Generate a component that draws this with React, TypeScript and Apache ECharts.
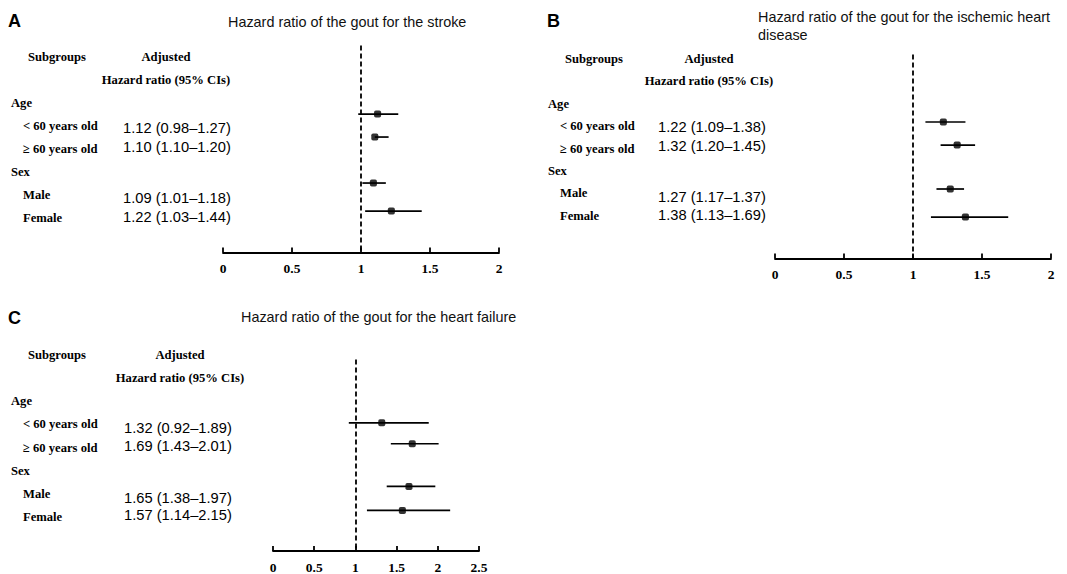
import React, { useEffect, useRef } from "react";
import * as echarts from "echarts";

// ---------- data ----------
const subgroupLabels = ["< 60 years old", "≥ 60 years old", "Male", "Female"];
const groupHeaders = ["Age", "Sex"];

const strokeHR = [1.12, 1.1, 1.09, 1.22];
const strokeLo = [0.98, 1.1, 1.01, 1.03];
const strokeHi = [1.27, 1.2, 1.18, 1.44];
const strokeRows = [2.48, 3.48, 5.48, 6.7];

const ihdHR = [1.22, 1.32, 1.27, 1.38];
const ihdLo = [1.09, 1.2, 1.17, 1.13];
const ihdHi = [1.38, 1.45, 1.37, 1.69];
const ihdRows = [2.81, 3.84, 5.8, 7.05];

const hfHR = [1.32, 1.69, 1.65, 1.57];
const hfLo = [0.92, 1.43, 1.38, 1.14];
const hfHi = [1.89, 2.01, 1.97, 2.15];
const hfRows = [2.94, 3.85, 5.7, 6.74];

const ticksAB = [0, 0.5, 1, 1.5, 2];
const ticksC = [0, 0.5, 1, 1.5, 2, 2.5];

const titles = [
  "Hazard ratio of the gout for the stroke",
  "Hazard ratio of the gout for the ischemic heart\ndisease",
  "Hazard ratio of the gout for the heart failure",
];

// ---------- styles ----------
const SERIF = "'Liberation Serif', 'Times New Roman', serif";
const SANS = "'Liberation Sans', Arial, sans-serif";

function fmt(hr: number, lo: number, hi: number) {
  return `${hr.toFixed(2)} (${lo.toFixed(2)}–${hi.toFixed(2)})`;
}

type PanelLayout = {
  letter: string;
  letterX: number;
  letterY: number;
  titleX: number;
  titleY: number;
  subX: number;
  subY: number;
  adjX: number;
  rowGap: number;
  groupX: number;
  itemX: number;
  hrX: number;
  hrY: number[];
};

const layouts: PanelLayout[] = [
  { letter: "A", letterX: 8, letterY: 21, titleX: 228, titleY: 22, subX: 28, subY: 57, adjX: 166, rowGap: 23, groupX: 11, itemX: 23, hrX: 123, hrY: [128, 147, 198, 217] },
  { letter: "B", letterX: 547, letterY: 21, titleX: 758, titleY: 26, subX: 565, subY: 59, adjX: 709, rowGap: 22.4, groupX: 548, itemX: 560, hrX: 658, hrY: [127, 146, 197, 215] },
  { letter: "C", letterX: 8, letterY: 318, titleX: 241, titleY: 317, subX: 28, subY: 355, adjX: 180, rowGap: 23.14, groupX: 11, itemX: 23, hrX: 124, hrY: [428, 446, 498, 515] },
];

const panelData = [
  { hr: strokeHR, lo: strokeLo, hi: strokeHi },
  { hr: ihdHR, lo: ihdLo, hi: ihdHi },
  { hr: hfHR, lo: hfLo, hi: hfHi },
];

function tableGraphics(p: PanelLayout, idx: number) {
  const els: any[] = [];
  const bold = (t: string, x: number, y: number, align = "left") => ({
    type: "text",
    x,
    y,
    style: { text: t, font: `bold 12.6px ${SERIF}`, fill: "#000", align, verticalAlign: "middle" },
  });
  els.push({
    type: "text",
    x: p.letterX,
    y: p.letterY,
    style: { text: p.letter, font: `bold 18px ${SANS}`, fill: "#000", verticalAlign: "middle" },
  });
  els.push({
    type: "text",
    x: p.titleX,
    y: p.titleY,
    style: { text: titles[idx], font: `14.4px ${SANS}`, fill: "#111", verticalAlign: "middle", lineHeight: 18 },
  });
  const g = p.rowGap;
  els.push(bold("Subgroups", p.subX, p.subY));
  els.push(bold("Adjusted", p.adjX, p.subY, "center"));
  els.push(bold("Hazard ratio (95% CIs)", p.adjX, p.subY + g, "center"));
  els.push(bold(groupHeaders[0], p.groupX, p.subY + 2 * g));
  els.push(bold(subgroupLabels[0], p.itemX, p.subY + 3 * g));
  els.push(bold(subgroupLabels[1], p.itemX, p.subY + 4 * g));
  els.push(bold(groupHeaders[1], p.groupX, p.subY + 5 * g));
  els.push(bold(subgroupLabels[2], p.itemX, p.subY + 6 * g));
  els.push(bold(subgroupLabels[3], p.itemX, p.subY + 7 * g));
  const d = panelData[idx];
  d.hr.forEach((v, i) => {
    els.push({
      type: "text",
      x: p.hrX,
      y: p.hrY[i],
      style: { text: fmt(v, d.lo[i], d.hi[i]), font: `14.7px ${SANS}`, fill: "#000", verticalAlign: "middle" },
    });
  });
  return els;
}

function makeXAxis(gridIndex: number, ticks: number[]) {
  return {
    type: "value",
    gridIndex,
    min: ticks[0],
    max: ticks[ticks.length - 1],
    interval: ticks[1] - ticks[0],
    axisLine: { show: true, onZero: false, lineStyle: { color: "#000", width: 1.8 } },
    axisTick: { show: true, inside: true, length: 5, lineStyle: { color: "#000", width: 1.8 } },
    axisLabel: { show: true, margin: 9, color: "#000", fontFamily: SERIF, fontWeight: "bold", fontSize: 13.5 },
    splitLine: { show: false },
  };
}

function makeYAxis(gridIndex: number, min: number, max: number) {
  return { type: "value", gridIndex, inverse: true, min, max, show: false };
}

function panelSeries(idx: number, rows: number[]) {
  const d = panelData[idx];
  return [
    {
      type: "custom",
      xAxisIndex: idx,
      yAxisIndex: idx,
      data: d.lo.map((lo, i) => [lo, d.hi[i], rows[i]]),
      renderItem: (params: any, api: any) => {
        const a = api.coord([api.value(0), api.value(2)]);
        const b = api.coord([api.value(1), api.value(2)]);
        return {
          type: "line",
          shape: { x1: a[0], y1: a[1], x2: b[0], y2: b[1] },
          style: { stroke: "#000", lineWidth: 1.7 },
        };
      },
      silent: true,
      z: 3,
    },
    {
      type: "scatter",
      xAxisIndex: idx,
      yAxisIndex: idx,
      symbol: "roundRect",
      symbolSize: 7,
      itemStyle: { color: "#000" },
      data: d.hr.map((v, i) => [v, rows[i]]),
      z: 4,
      markLine: {
        silent: true,
        symbol: "none",
        label: { show: false },
        lineStyle: { color: "#000", width: 1.8, type: [5, 3] },
        data: [{ xAxis: 1 }],
      },
    },
  ];
}

export default function App() {
  const ref = useRef<HTMLDivElement>(null);
  useEffect(() => {
    if (!ref.current) return;
    const chart = echarts.init(ref.current, null, { renderer: "svg" });
    chart.setOption({
      animation: false,
      backgroundColor: "#fff",
      grid: [
        { left: 223, top: 45.5, width: 276, height: 207 },
        { left: 775, top: 54.5, width: 276, height: 204 },
        { left: 273, top: 359.6, width: 206, height: 192 },
      ],
      xAxis: [makeXAxis(0, ticksAB), makeXAxis(1, ticksAB), makeXAxis(2, ticksC)],
      yAxis: [makeYAxis(0, -0.5, 8.5), makeYAxis(1, -0.2, 8.9), makeYAxis(2, 0.2, 8.5)],
      series: [...panelSeries(0, strokeRows), ...panelSeries(1, ihdRows), ...panelSeries(2, hfRows)],
      graphic: [...tableGraphics(layouts[0], 0), ...tableGraphics(layouts[1], 1), ...tableGraphics(layouts[2], 2)],
    });
    return () => chart.dispose();
  }, []);
  return (
    <div
      ref={ref}
      style={{ position: "fixed", left: 0, top: 0, width: 1067, height: 574, background: "#fff" }}
    />
  );
}
